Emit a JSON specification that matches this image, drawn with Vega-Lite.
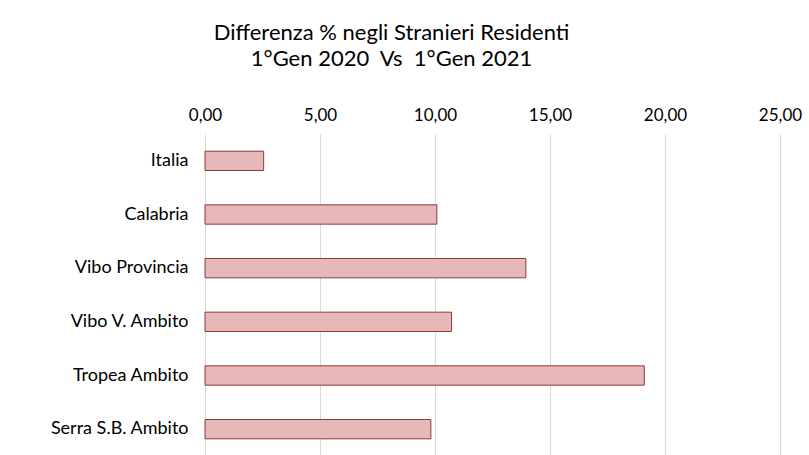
{
  "$schema": "https://vega.github.io/schema/vega-lite/v6.json",
  "width": 575,
  "height": 322,
  "autosize": {"type": "none"},
  "padding": {"left": 205, "top": 134, "right": 29, "bottom": 0},
  "background": "white",
  "config": {
    "locale": {"number": {"decimal": ",", "thousands": ".", "grouping": [3], "currency": ["€", ""]}},
    "view": {"stroke": null},
    "font": "Lato"
  },
  "title": {
    "text": ["Differenza % negli Stranieri Residenti", "1°Gen 2020\u00a0 Vs \u00a01°Gen 2021"],
    "anchor": "middle",
    "frame": "group",
    "dx": -101,
    "offset": 35,
    "fontSize": 22,
    "fontWeight": "normal",
    "font": "Lato",
    "color": "#000000",
    "lineHeight": 26
  },
  "data": {
    "values": [
      {"area": "Italia", "diff": 2.55},
      {"area": "Calabria", "diff": 10.08},
      {"area": "Vibo Provincia", "diff": 13.95},
      {"area": "Vibo V. Ambito", "diff": 10.72},
      {"area": "Tropea Ambito", "diff": 19.1},
      {"area": "Serra S.B. Ambito", "diff": 9.82}
    ]
  },
  "mark": {"type": "bar", "fill": "#e6b8b7", "stroke": "#8c3b3b", "strokeWidth": 1},
  "encoding": {
    "y": {
      "field": "area",
      "type": "nominal",
      "sort": null,
      "scale": {"paddingInner": 0.64, "paddingOuter": 0.32},
      "axis": {"title": null, "domain": false, "ticks": false, "labelPadding": 17, "labelFontSize": 18, "labelColor": "#000000", "labelFont": "Lato"}
    },
    "x": {
      "field": "diff",
      "type": "quantitative",
      "scale": {"domain": [0, 25], "nice": false},
      "axis": {"orient": "top", "title": null, "domain": false, "ticks": false, "values": [0, 5, 10, 15, 20, 25], "format": ".2f", "labelFlush": false, "labelPadding": 10, "labelFontSize": 17, "labelColor": "#000000", "labelFont": "Lato", "gridColor": "#d9d9d9", "gridWidth": 1}
    }
  }
}
